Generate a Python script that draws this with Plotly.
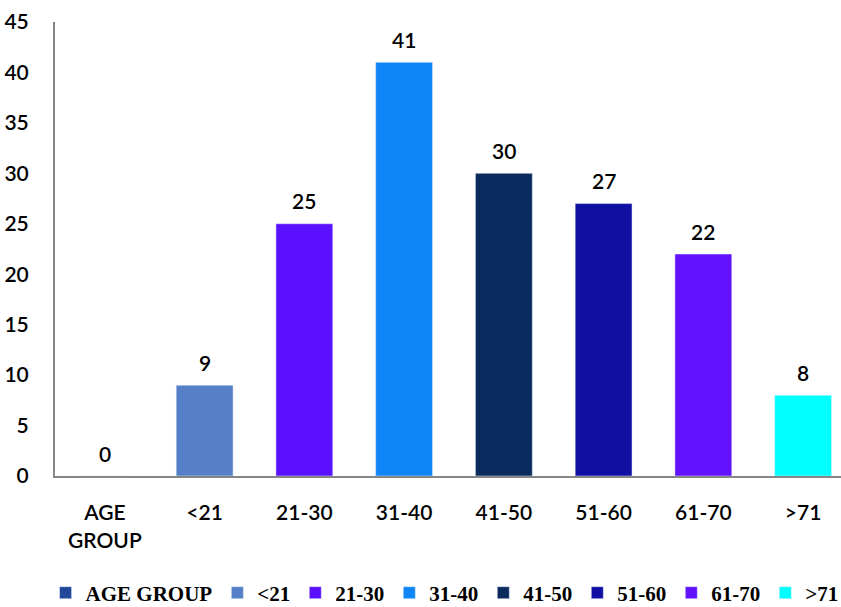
import plotly.graph_objects as go

categories = ["AGE GROUP", "<21", "21-30", "31-40", "41-50", "51-60", "61-70", ">71"]
tick_labels = ["AGE<br>GROUP", "<21", "21-30", "31-40", "41-50", "51-60", "61-70", ">71"]
values = [0, 9, 25, 41, 30, 27, 22, 8]
colors = ["#23479A", "#5580C8", "#5A10FF", "#0F86F8", "#0B2A5E", "#0F0FA3", "#6212FF", "#00FFFF"]

label_font = dict(family="Lato", size=21, color="#000000", weight=600)

fig = go.Figure()
for i, (c, v, col) in enumerate(zip(categories, values, colors)):
    fig.add_trace(go.Bar(
        x=[i], y=[v], name=c, marker_color=col, width=0.57,
        hoverinfo="skip",
    ))

for i, v in enumerate(values):
    fig.add_annotation(x=i, y=v, text=str(v), showarrow=False, yshift=23,
                       font=label_font)

fig.update_layout(
    width=841, height=607,
    margin=dict(l=55, r=0, t=22, b=131, autoexpand=False),
    plot_bgcolor="white", paper_bgcolor="white",
    barmode="overlay",
    showlegend=True,
    legend=dict(orientation="h", x=-0.012, xanchor="left",
                y=-0.2577, yanchor="middle",
                font=dict(family="Liberation Serif", size=21, color="#000000", weight="bold"),
                itemwidth=30, tracegroupgap=0, itemclick=False),
    font=dict(family="Lato", size=21, color="#000000"),
)
fig.update_xaxes(
    tickmode="array", tickvals=list(range(len(categories))), ticktext=tick_labels,
    range=[-0.5, 7.38], showline=True, linecolor="#868686", linewidth=2,
    showgrid=False, zeroline=False, ticks="", ticklabelstandoff=17, automargin=False,
    tickfont=label_font,
)
fig.update_yaxes(
    range=[0, 45], tickvals=list(range(0, 46, 5)), showline=True, linecolor="#868686",
    linewidth=2, showgrid=False, zeroline=False, ticks="", ticklabelstandoff=20, automargin=False,
    tickfont=label_font,
)

fig.write_html("out.html")
